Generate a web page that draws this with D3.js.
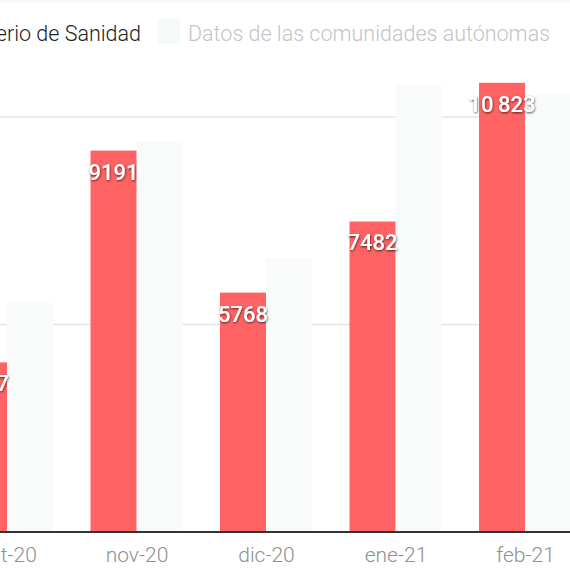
<!DOCTYPE html>
<html><head><meta charset="utf-8">
<script src="https://cdn.jsdelivr.net/npm/d3@7"></script>
<style>
html,body{margin:0;padding:0;background:#fff;overflow:hidden}
svg{display:block}
text{font-family:Roboto,"Open Sans",sans-serif}
</style></head>
<body>
<svg id="chart" width="570" height="571"></svg>
<script>
const categories = ["oct-20","nov-20","dic-20","ene-21","feb-21"];
const ministerio = [4087, 9191, 5768, 7482, 10823];
const comunidades = [5520, 9420, 6600, 10780, 10530];
const gridTicks = [5000, 10000];
const seriesNames = ["Ministerio de Sanidad", "Datos de las comunidades autónomas"];
const colors = ["#ff6363", "#f9fbfb"];

const svg = d3.select("#chart");
const defs = svg.append("defs");
const f = defs.append("filter").attr("id","sh").attr("x","-20%").attr("y","-40%").attr("width","140%").attr("height","180%");
f.append("feDropShadow").attr("dx",0.5).attr("dy",1).attr("stdDeviation",1.3).attr("flood-color","#000").attr("flood-opacity",0.7);

svg.append("rect").attr("x",0).attr("y",0).attr("width",570).attr("height",3).attr("fill","#f8f8f8");

const y = d3.scaleLinear().domain([0, 10000]).range([532, 117]);
const x = d3.scalePoint().domain(categories).range([7, 525]);
const sub = d3.scaleBand().domain([0,1]).range([-46, 46]).padding(0);

// grid
svg.append("g").selectAll("line").data(gridTicks).join("line")
  .attr("x1",0).attr("x2",570).attr("y1",d=>y(d)).attr("y2",d=>y(d))
  .attr("stroke","#e6e6e6").attr("stroke-width",1.5);

const groups = svg.append("g").selectAll("g").data(categories).join("g")
  .attr("transform", d => `translate(${x(d)},0)`);

groups.append("rect").attr("x", sub(1)).attr("width", sub.bandwidth())
  .attr("y", (d,i)=>y(comunidades[i])).attr("height",(d,i)=>y(0)-y(comunidades[i]))
  .attr("fill", colors[1]);
groups.append("rect").attr("x", sub(0)).attr("width", sub.bandwidth())
  .attr("y", (d,i)=>y(ministerio[i])).attr("height",(d,i)=>y(0)-y(ministerio[i]))
  .attr("fill", colors[0]);

const fmt = v => v >= 10000 ? d3.format(",")(v).replace(",", "\u2009") : String(v);
groups.append("text").attr("x", sub(0)+sub.bandwidth()/2)
  .attr("y",(d,i)=>y(ministerio[i])+29)
  .attr("text-anchor","middle").attr("fill","#fff").attr("font-weight",500)
  .attr("font-size",22).attr("filter","url(#sh)")
  .text((d,i)=>fmt(ministerio[i]));

// axis
const ax = svg.append("g").attr("transform","translate(0,532)")
  .call(d3.axisBottom(x).tickSize(0).tickPadding(15));
ax.select(".domain").remove();
ax.append("line").attr("x1",0).attr("x2",570).attr("stroke","#333").attr("stroke-width",2);
ax.selectAll(".tick text").attr("font-family","Roboto, sans-serif").attr("font-size",21).attr("font-weight",300).attr("fill","#8f8f8f").attr("dy","0.71em");

// legend
const leg = svg.append("g");
leg.append("text").attr("x",141).attr("y",41).attr("text-anchor","end").attr("font-size",21.5).attr("font-weight",300).attr("fill","#222").text(seriesNames[0]);
leg.append("rect").attr("x",158).attr("y",19).attr("width",22).attr("height",25).attr("fill","#f5f9f8");
leg.append("text").attr("x",188).attr("y",41).attr("font-size",21.5).attr("font-weight",300).attr("fill","#c4c4c4").text(seriesNames[1]);
</script>
</body></html>
